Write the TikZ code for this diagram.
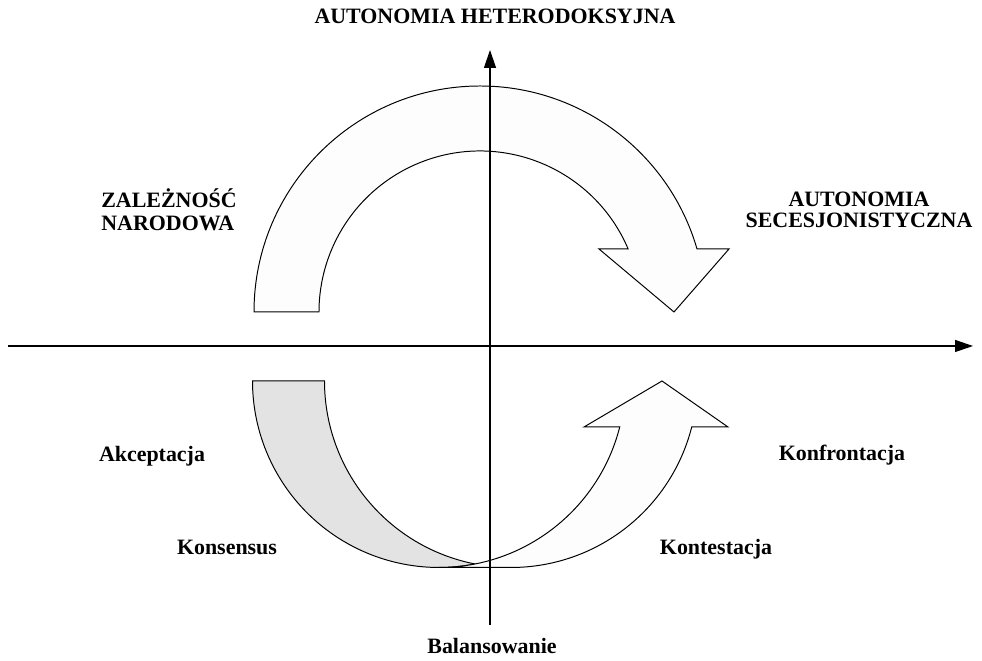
\documentclass[tikz,border=0pt]{standalone}
\usepackage{fontspec}
\setmainfont{Liberation Serif}
\usetikzlibrary{arrows.meta,calc}
\definecolor{backgray}{RGB}{227,227,227}
\definecolor{frontwhite}{RGB}{253,253,253}

\begin{document}
\begin{tikzpicture}[
    x=0.025cm, y=0.025cm,
    band/.style={draw=black, line width=0.7pt, fill=frontwhite},
    axis/.style={line width=0.9pt, -{Triangle[length=4.5mm,width=3mm]}},
    lbl/.style={font=\fontsize{15.6}{16.6}\selectfont\bfseries, inner sep=0pt}
  ]
  \useasboundingbox (0,0) rectangle (982,661);
  \coordinate (uc) at (480,349);
  \coordinate (lc1) at (439,280);
  \coordinate (lc2) at (511,280);
  \draw[band] (uc) ++(180:226) arc[start angle=180, end angle=16.19, radius=226]
    -- (729,412) -- (674,349) -- (599,412) -- ($(uc)+(23.04:161)$)
    arc[start angle=23.04, end angle=180, radius=161] -- cycle;
  \draw[band, fill=backgray] (lc1) ++(180:186.5) arc[start angle=180, end angle=281.13, radius=186.5]
    -- ($(lc2)+(258.87:186.5)$) arc[start angle=258.87, end angle=180, radius=186.5] -- cycle;
  \draw[band] (lc1) ++(270:186.5) arc[start angle=270, end angle=345.72, radius=186.5]
    -- (584,234) -- (662,280) -- (728,234) -- ($(lc2)+(345.72:186.5)$)
    arc[start angle=345.72, end angle=270, radius=186.5] -- cycle;
  \coordinate (xw) at (8,315);
  \coordinate (xe) at (973,315);
  \coordinate (ys) at (490,36);
  \coordinate (yn) at (490,611);
  \draw[axis] (xw) -- (xe);
  \draw[axis] (ys) -- (yn);
  \node[lbl, anchor=base] (hetero) at (495,637) {AUTONOMIA HETERODOKSYJNA};
  \node[lbl, align=left] (zalez) at (169,451) {ZALEŻNOŚĆ\\NARODOWA};
  \node[lbl, align=center] (secesj) at (859,451) {AUTONOMIA\\[-2pt]SECESJONISTYCZNA};
  \node[lbl, anchor=base] (akcept) at (152,199) {Akceptacja};
  \node[lbl, anchor=base] (konsens) at (227,106) {Konsensus};
  \node[lbl, anchor=base] (konfront) at (842,200) {Konfrontacja};
  \node[lbl, anchor=base] (kontest) at (716,106) {Kontestacja};
  \node[lbl, anchor=base] (balans) at (492,7) {Balansowanie};
\end{tikzpicture}
\end{document}
